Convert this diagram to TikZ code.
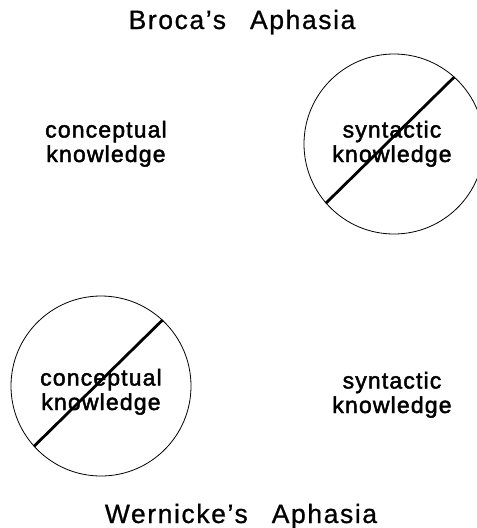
\documentclass[tikz,border=0pt]{standalone}
\usepackage{fontspec}
\setmainfont{Liberation Sans}
\begin{document}
\begin{tikzpicture}[x=1pt,y=-1pt,
  lbl/.style={align=center,inner sep=0pt,anchor=base,font=\fontsize{23}{24.5}\selectfont\addfontfeature{LetterSpace=5,FakeBold=2}},
  ttl/.style={inner sep=0pt,anchor=base,font=\fontsize{26.5}{28}\selectfont\addfontfeature{LetterSpace=6,FakeBold=0.8}},
  ring/.style={circle,draw,line width=0.8pt,minimum size=180pt,inner sep=0pt},
  slash/.style={line width=2.8pt}]
\useasboundingbox (0,0) rectangle (477,528);
\node[ttl] (broca) at (242,29) {Broca's\hspace{24pt}Aphasia};
\node[ttl] (wern) at (241,523) {Wernicke's\hspace{24pt}Aphasia};
\node[ring] (c1) at (394,144) {};
\node[ring] (c2) at (101,386) {};
\draw[slash] (c1.221) -- (c1.48);
\draw[slash] (c2.222) -- (c2.47);
\node[lbl] (ck1) at (106,162) {conceptual\\knowledge};
\node[lbl] (sk1) at (392,162) {syntactic\\knowledge};
\node[lbl] (ck2) at (101,410) {conceptual\\knowledge};
\node[lbl] (sk2) at (392,413) {syntactic\\knowledge};
\end{tikzpicture}
\end{document}
